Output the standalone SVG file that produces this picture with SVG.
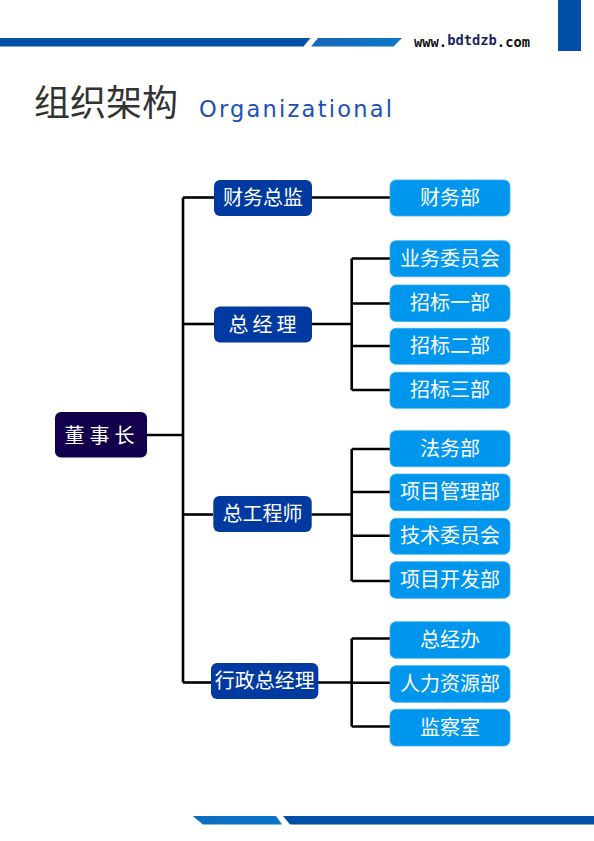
<svg xmlns="http://www.w3.org/2000/svg" width="594" height="841" viewBox="0 0 594 841">
  <defs>
    <linearGradient id="gTop" x1="0" y1="0" x2="1" y2="0">
      <stop offset="0" stop-color="#1a66bb"/>
      <stop offset="1" stop-color="#0a78c8"/>
    </linearGradient>
    <linearGradient id="gBot" x1="0" y1="0" x2="1" y2="0">
      <stop offset="0" stop-color="#0c6cc0"/>
      <stop offset="1" stop-color="#0a74c6"/>
    </linearGradient>
    <style>
      .lines { fill: none; stroke: #000; stroke-width: 2.6; }
      .top { fill: #12004c; }
      .mid { fill: #003aa0; }
      .leaf { fill: #0096ee; stroke: #3aaef2; stroke-width: 0.8; }
      .t { font-family: "Noto Sans CJK SC", "Noto Sans", sans-serif; fill: #fff; text-anchor: middle; font-size: 20px; }
    </style>
  </defs>
  <rect width="594" height="841" fill="#fff"/>

  <!-- header decoration -->
  <polygon points="0,38 310.5,38 303.5,46.5 0,46.5" fill="#0050a8"/>
  <polygon points="318,38 402,38 393.5,46.5 311,46.5" fill="url(#gTop)"/>
  <text x="414" y="46.5" font-family="DejaVu Sans Mono, monospace" font-weight="bold" font-size="13.8" fill="#111" textLength="116" lengthAdjust="spacingAndGlyphs">www.<tspan fill="#1a2560" dy="-1.5">bdtdzb</tspan><tspan dy="1.5">.com</tspan></text>
  <rect x="558" y="0" width="23" height="51" fill="#0050aa"/>

  <!-- title -->
  <text x="34" y="115.5" font-family="Noto Sans CJK SC, sans-serif" font-size="36" fill="#333">组织架构</text>
  <text x="199" y="116.7" font-family="DejaVu Sans, Verdana, sans-serif" font-size="22.5" fill="#1c50b4" textLength="193" lengthAdjust="spacing">Organizational</text>

  <!-- footer decoration -->
  <polygon points="192.7,816 276,816 282,824.5 203,824.5" fill="url(#gBot)"/>
  <polygon points="283,816 594,816 594,824.5 290,824.5" fill="#0050a8"/>

  <!-- connectors -->
  <g id="connectors" class="lines">
    <path d="M147,435 H183"/>
    <path d="M183,197.5 V682.5"/>
    <path d="M183,197.5 H214"/>
    <path d="M183,324 H214"/>
    <path d="M183,514.5 H213"/>
    <path d="M183,682.5 H211"/>
    <path d="M312,197.5 H390"/>
    <path d="M312,324 H351.7"/>
    <path d="M351.7,258.5 V390"/>
    <path d="M351.7,258.5 H390 M351.7,303.5 H390 M351.7,346 H390 M351.7,390 H390"/>
    <path d="M311.5,514.5 H351.7"/>
    <path d="M351.7,449 V581"/>
    <path d="M351.7,449 H390 M351.7,492 H390 M351.7,535.7 H390 M351.7,581 H390"/>
    <path d="M318,682.5 H351.7"/>
    <path d="M351.7,638.5 V726.5"/>
    <path d="M351.7,638.5 H390 M351.7,682.7 H390 M351.7,726.5 H390"/>
  </g>

  <!-- nodes -->
  <g id="n-dongshizhang">
    <rect class="top" x="55" y="412" width="92" height="45.5" rx="6"/>
    <text class="t" x="102" y="443" font-size="22" letter-spacing="5">董事长</text>
  </g>

  <g id="n-caiwuzongjian">
    <rect class="mid" x="214" y="180" width="98" height="36" rx="6"/>
    <text class="t" x="263" y="205">财务总监</text>
  </g>
  <g id="n-zongjingli">
    <rect class="mid" x="214" y="306.5" width="98" height="36" rx="6"/>
    <text class="t" x="264.5" y="331.5" letter-spacing="4">总经理</text>
  </g>
  <g id="n-zonggongchengshi">
    <rect class="mid" x="213.3" y="496" width="98.4" height="36" rx="6"/>
    <text class="t" x="262.5" y="521">总工程师</text>
  </g>
  <g id="n-xingzhengzongjingli">
    <rect class="mid" x="211" y="663" width="107.3" height="36" rx="6"/>
    <text class="t" x="264.7" y="688">行政总经理</text>
  </g>

  <g id="n-caiwubu">
    <rect class="leaf" x="390" y="180" width="120" height="36" rx="6"/>
    <text class="t" x="450" y="205">财务部</text>
  </g>
  <g id="n-yewuweiyuanhui">
    <rect class="leaf" x="390" y="240.7" width="120" height="36" rx="6"/>
    <text class="t" x="450" y="265.7">业务委员会</text>
  </g>
  <g id="n-zhaobiao1">
    <rect class="leaf" x="390" y="285" width="120" height="36.5" rx="6"/>
    <text class="t" x="450" y="310.3">招标一部</text>
  </g>
  <g id="n-zhaobiao2">
    <rect class="leaf" x="390" y="328.3" width="120" height="36" rx="6"/>
    <text class="t" x="450" y="353.3">招标二部</text>
  </g>
  <g id="n-zhaobiao3">
    <rect class="leaf" x="390" y="372.3" width="120" height="36" rx="6"/>
    <text class="t" x="450" y="397.3">招标三部</text>
  </g>

  <g id="n-fawubu">
    <rect class="leaf" x="390" y="430.7" width="120" height="36" rx="6"/>
    <text class="t" x="450" y="455.7">法务部</text>
  </g>
  <g id="n-xiangmuguanlibu">
    <rect class="leaf" x="390" y="474" width="120" height="36.7" rx="6"/>
    <text class="t" x="450" y="499.3">项目管理部</text>
  </g>
  <g id="n-jishuweiyuanhui">
    <rect class="leaf" x="390" y="518.3" width="120" height="36" rx="6"/>
    <text class="t" x="450" y="543.3">技术委员会</text>
  </g>
  <g id="n-xiangmukaifabu">
    <rect class="leaf" x="390" y="561.7" width="120" height="36.6" rx="6"/>
    <text class="t" x="450" y="587">项目开发部</text>
  </g>

  <g id="n-zongjingban">
    <rect class="leaf" x="390" y="621.7" width="120" height="36.6" rx="6"/>
    <text class="t" x="450" y="647">总经办</text>
  </g>
  <g id="n-renliziyuanbu">
    <rect class="leaf" x="390" y="665.7" width="120" height="36.6" rx="6"/>
    <text class="t" x="450" y="691">人力资源部</text>
  </g>
  <g id="n-jianchashi">
    <rect class="leaf" x="390" y="709.3" width="120" height="36.7" rx="6"/>
    <text class="t" x="450" y="734.7">监察室</text>
  </g>
</svg>
